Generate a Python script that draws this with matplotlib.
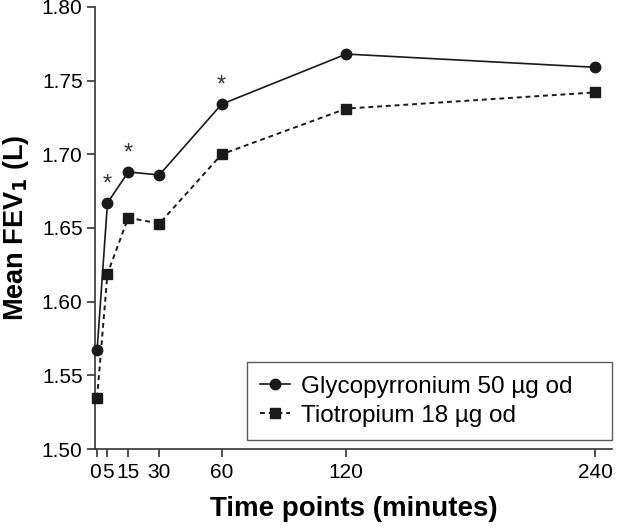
import matplotlib.pyplot as plt
import matplotlib.transforms as mtransforms

plt.rcParams['font.family'] = ['Liberation Sans', 'DejaVu Sans']

# Data
time_points = [0, 5, 15, 30, 60, 120, 240]
glyco_fev1 = [1.567, 1.667, 1.688, 1.686, 1.734, 1.768, 1.759]
tio_fev1 = [1.535, 1.619, 1.657, 1.653, 1.700, 1.731, 1.742]
signif_times = [5, 15, 60]

fig = plt.figure(figsize=(6.17, 5.29), dpi=100)
ax = fig.add_axes([0.154, 0.151, 0.838, 0.836])

ax.plot(time_points, glyco_fev1, '-', color='#1a1a1a', marker='o', markersize=7.5,
        linewidth=1.2, label='Glycopyrronium 50 µg od', clip_on=False, zorder=3)
ax.plot(time_points, tio_fev1, '--', color='#1a1a1a', marker='s', markersize=7,
        linewidth=1.4, dashes=(2.5, 2), label='Tiotropium 18 µg od', clip_on=False, zorder=3)

# Significance asterisks above glycopyrronium points
for t in signif_times:
    y = glyco_fev1[time_points.index(t)]
    ax.text(t, y + 0.005, '*', ha='center', va='bottom', fontsize=17, color='#333333')

ax.set_xlim(-1, 248)
ax.set_ylim(1.50, 1.80)
ax.set_xticks(time_points)
ax.set_xticklabels(['0', '5', '15', '30', '60', '120', '240'])
ax.set_yticks([1.50, 1.55, 1.60, 1.65, 1.70, 1.75, 1.80])
ax.set_yticklabels(['1.50', '1.55', '1.60', '1.65', '1.70', '1.75', '1.80'])

ax.tick_params(direction='out', length=6, width=1.2, labelsize=15, color='#333333')
ax.tick_params(axis='x', pad=4)
ax.tick_params(axis='y', pad=3)
for side in ['top', 'right']:
    ax.spines[side].set_visible(False)
for side in ['left', 'bottom']:
    ax.spines[side].set_linewidth(1.2)
    ax.spines[side].set_color('#333333')

# nudge the crowded "0" label a little to the left, as in the original
shift = mtransforms.ScaledTranslation(-2.5 / 100, 0, fig.dpi_scale_trans)
zero_label = ax.get_xticklabels()[0]
zero_label.set_transform(zero_label.get_transform() + shift)

ax.set_xlabel('Time points (minutes)', fontsize=20, fontweight='bold', labelpad=10)
ax.set_ylabel('Mean FEV$_\\mathbf{1}$ (L)', fontsize=19.5, fontweight='bold', labelpad=8)

leg = ax.legend(loc='lower left', bbox_to_anchor=(0.294, 0.02, 0.706, 0.2), mode='expand',
                borderaxespad=0, fontsize=17.5, frameon=True, fancybox=False,
                edgecolor='#333333', handlelength=1.2, borderpad=0.55,
                labelspacing=0.3, handletextpad=0.45)
leg.get_frame().set_linewidth(1.0)

fig.savefig('out.png', dpi=100)
